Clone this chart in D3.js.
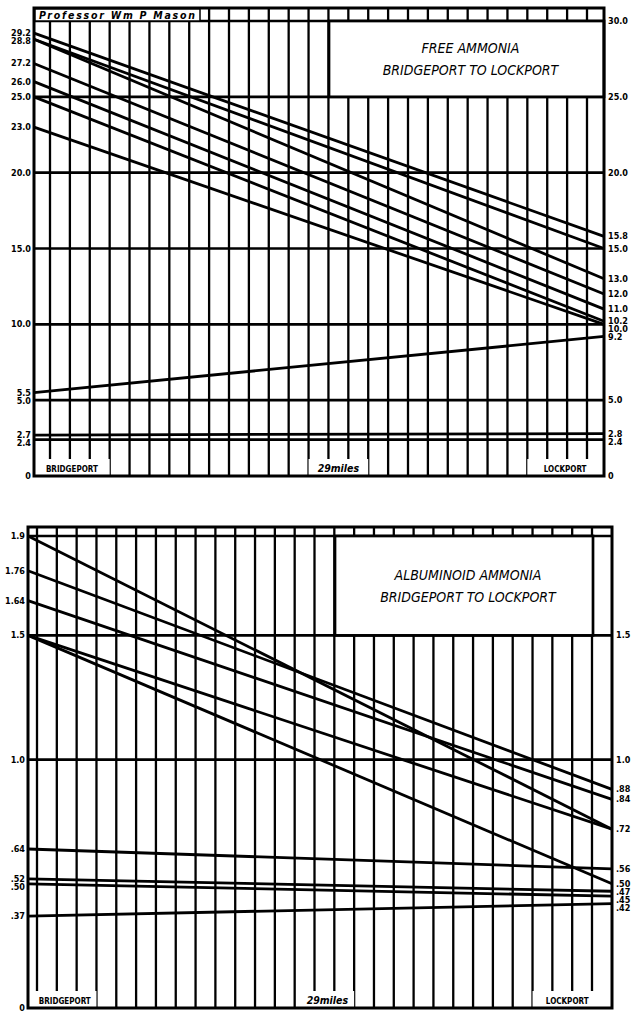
<!DOCTYPE html>
<html><head><meta charset="utf-8">
<script src="https://cdn.jsdelivr.net/npm/d3@7"></script>
<style>body{margin:0;background:#fff}</style>
</head><body><svg id="c" width="633" height="1016"></svg>
<script>
// ---------- DATA ----------
const miles = 29;
// Free ammonia (parts per million), Bridgeport (mile 0) -> Lockport (mile 29)
const freeStart = [29.2, 28.8, 28.8, 27.2, 26.0, 25.0, 23.0, 5.5, 2.7, 2.4];
const freeEnd   = [15.8, 15.0, 13.0, 12.0, 11.0, 10.2, 10.0, 9.2, 2.8, 2.4];
const freeGrid  = [30, 25, 20, 15, 10, 5];
const freeLeftLabels  = ["29.2","28.8","27.2","26.0","25.0","23.0","20.0","15.0","10.0","5.5","5.0","2.7","2.4","0"];
const freeRightLabels = ["30.0","25.0","20.0","15.8","15.0","13.0","12.0","11.0","10.2","10.0","9.2","5.0","2.8","2.4","0"];

// Albuminoid ammonia
const albStart = [1.9, 1.76, 1.64, 1.5, 1.5, 0.64, 0.52, 0.50, 0.37];
const albEnd   = [0.72, 0.88, 0.84, 0.72, 0.50, 0.56, 0.47, 0.45, 0.42];
const albGrid  = [1.9, 1.5, 1.0];
const albLeftLabels  = ["1.9","1.76","1.64","1.5","1.0",".64",".52",".50",".37","0"];
const albRightLabels = ["1.5","1.0",".88",".84",".72",".56",".50",".47",".45",".42"];

// ---------- DRAW ----------
const svg = d3.select("#c");
svg.append("rect").attr("width",633).attr("height",1016).attr("fill","#fff");
const FONT = "'Liberation Sans Narrow','DejaVu Sans Condensed',sans-serif";

function lbl(s){ return s==="0" ? 0 : +s; }

function spread(items, gap){
  items.sort((a,b)=>a.y-b.y);
  for(let i=1;i<items.length;i++) if(items[i].y-items[i-1].y<gap) items[i].y=items[i-1].y+gap;
  return items;
}

function chart(o){
  const g = svg.append("g");
  const x = d3.scaleLinear().domain([0,miles]).range([o.left,o.right]);
  const gx = d3.scaleLinear().domain([0,o.nGrid-1]).range([o.gridFirst,o.gridLast]);
  const y = d3.scaleLinear().domain([0,o.max]).range([o.bottom,o.yMax]);
  const sw = 2.7;
  g.selectAll("line.v").data(d3.range(o.nGrid)).join("line")
    .attr("x1",d=>gx(d)).attr("x2",d=>gx(d))
    .attr("y1",o.top).attr("y2",o.bottom)
    .attr("stroke","#000").attr("stroke-width",2.3);
  g.selectAll("line.h").data(o.grid).join("line")
    .attr("x1",o.left).attr("x2",o.right)
    .attr("y1",d=>y(d)).attr("y2",d=>y(d))
    .attr("stroke","#000").attr("stroke-width",sw);
  g.selectAll("line.d").data(o.start.map((s,i)=>[s,o.end[i]])).join("line")
    .attr("x1",x(0)).attr("x2",x(miles))
    .attr("y1",d=>y(d[0])).attr("y2",d=>y(d[1]))
    .attr("stroke","#000").attr("stroke-width",2.8);
  g.append("rect").attr("x",o.box[0]).attr("y",y(o.boxTop)).attr("width",o.box[1]-o.box[0])
    .attr("height",y(o.boxBottom)-y(o.boxTop)).attr("fill","#fff").attr("stroke","#000").attr("stroke-width",sw);
  o.title.forEach((t,i)=>g.append("text").attr("x",(o.box[0]+o.box[1])/2+4)
    .attr("y",(y(o.boxTop)+y(o.boxBottom))/2 - 6 + i*22).attr("text-anchor","middle")
    .attr("font-family",FONT).attr("font-style","italic").attr("font-size",14).text(t));
  o.bottomLabels.forEach(b=>{
    g.append("rect").attr("x",gx(b.from)).attr("y",o.bottom-17).attr("width",gx(b.to)-gx(b.from))
      .attr("height",17).attr("fill","#fff");
    g.append("text").attr("x",(gx(b.from)+gx(b.to))/2).attr("y",o.bottom-4).attr("text-anchor","middle")
      .attr("font-family",FONT).attr("font-weight","bold").attr("font-style",b.it?"italic":"normal")
      .attr("font-size",b.fs).text(b.t);
  });
  g.append("rect").attr("x",o.left).attr("y",o.top).attr("width",o.right-o.left).attr("height",o.bottom-o.top)
    .attr("fill","none").attr("stroke","#000").attr("stroke-width",3);
  const L = spread(o.leftLabels.map(t=>({t,y:y(lbl(t))})), 8);
  g.selectAll("text.l").data(L).join("text").attr("x",o.left-3).attr("y",d=>d.y+3)
    .attr("text-anchor","end").attr("font-family",FONT).attr("font-weight","bold")
    .attr("font-size",9).text(d=>d.t);
  const R = spread(o.rightLabels.map(t=>({t,y:y(lbl(t))})), 8);
  g.selectAll("text.r").data(R).join("text").attr("x",o.right+4).attr("y",d=>d.y+3)
    .attr("font-family",FONT).attr("font-weight","bold")
    .attr("font-size",9).text(d=>d.t);
  return {g,x,y,gx};
}

const c1 = chart({left:34,right:604,top:8,bottom:476,yMax:21,max:30,nGrid:28,gridFirst:50,gridLast:587,
  grid:freeGrid,start:freeStart,end:freeEnd,box:[329,604],boxTop:30,boxBottom:25,
  title:["FREE AMMONIA","BRIDGEPORT TO LOCKPORT"],
  bottomLabels:[{from:-0.8,to:3,t:"BRIDGEPORT",fs:8},{from:13,to:16,t:"29miles",fs:10.5,it:true},{from:24,to:27.8,t:"LOCKPORT",fs:8}],
  leftLabels:freeLeftLabels,rightLabels:freeRightLabels});
c1.g.append("rect").attr("x",35).attr("y",9).attr("width",165).attr("height",12).attr("fill","#fff").attr("stroke","#000").attr("stroke-width",1.5);
c1.g.append("text").attr("x",39).attr("y",19).attr("font-family",FONT).attr("font-style","italic").attr("font-weight","bold")
  .attr("font-size",10.5).attr("textLength",156).attr("lengthAdjust","spacing").text("Professor Wm P Mason");

const c2 = chart({left:28,right:612,top:527,bottom:1008,yMax:536,max:1.9,nGrid:29,gridFirst:37,gridLast:592,
  grid:albGrid,start:albStart,end:albEnd,box:[335,593],boxTop:1.9,boxBottom:1.5,
  title:["ALBUMINOID AMMONIA","BRIDGEPORT TO LOCKPORT"],
  bottomLabels:[{from:-0.2,to:3,t:"BRIDGEPORT",fs:8},{from:13.3,to:16,t:"29miles",fs:10.5,it:true},{from:25,to:28.5,t:"LOCKPORT",fs:8}],
  leftLabels:albLeftLabels,rightLabels:albRightLabels});
</script></body></html>
